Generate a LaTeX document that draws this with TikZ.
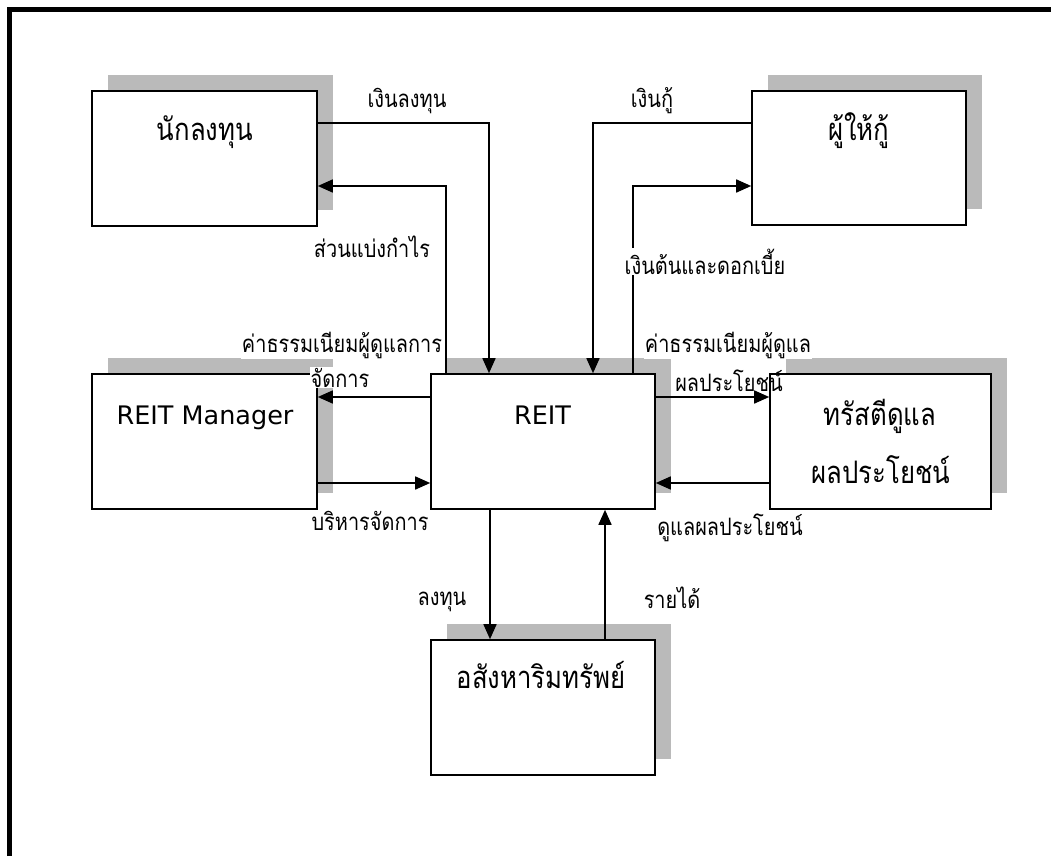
\documentclass[tikz,border=0pt]{standalone}
\usepackage{fontspec}
\setmainfont{DejaVu Sans}
\newfontfamily\thai[Script=Thai, FakeStretch=0.83]{Loma}
\usetikzlibrary{arrows.meta,calc,shadows}
\begin{document}
\begin{tikzpicture}[x=1pt,y=-1pt,
  box/.style={draw, line width=1.6pt, fill=white, inner sep=0pt,
    drop shadow={shadow xshift=16pt, shadow yshift=16pt, fill=black!27, opacity=1}},
  title/.style={font=\thai\fontsize{31}{33}\selectfont, anchor=base, inner sep=0pt},
  ltitle/.style={font=\fontsize{25.5}{28}\selectfont, anchor=base, inner sep=0pt},
  lbl/.style={font=\thai\fontsize{24}{26}\selectfont, anchor=base, fill=white, inner sep=1pt},
  flow/.style={line width=1.6pt, -{Triangle[length=15pt,width=13pt]}},
]
\useasboundingbox (0,0) rectangle (1051,856);

% page frame (top and left rules)
\draw[line width=5pt] (9.5,856) -- (9.5,9.5) -- (1051,9.5);

% parties
\node[box, minimum width=225pt, minimum height=135pt] (inv)    at (204.5,158.5) {};
\node[box, minimum width=214pt, minimum height=134pt] (lender) at (859,158) {};
\node[box, minimum width=225pt, minimum height=135pt] (mgr)    at (204.5,441.5) {};
\node[box, minimum width=224pt, minimum height=135pt] (reit)   at (543,441.5) {};
\node[box, minimum width=221pt, minimum height=135pt] (trust)  at (880.5,441.5) {};
\node[box, minimum width=224pt, minimum height=135pt] (prop)   at (543,707.5) {};

\node[title]  (invT)    at (205,140) {นักลงทุน};
\node[title]  (lenderT) at (859,140) {ผู้ให้กู้};
\node[ltitle] (mgrT)    at (205,424) {REIT Manager};
\node[ltitle] (reitT)   at (542.5,424) {REIT};
\node[title]  (trustT)  at (880,425) {ทรัสตีดูแล};
\node[title]  (trustT2) at (881,483) {ผลประโยชน์};
\node[title]  (propT)   at (541,688) {อสังหาริมทรัพย์};

% flows between the parties
\draw[flow] ([yshift=35.5pt]inv.east) -| ([xshift=-54pt]reit.north);
\draw[flow] ([xshift=-97pt]reit.north) |- ([yshift=-27.5pt]inv.east);
\draw[flow] ([yshift=35pt]lender.west) -| ([xshift=50pt]reit.north);
\draw[flow] ([xshift=90pt]reit.north) |- ([yshift=-28pt]lender.west);
\draw[flow] ([yshift=44.5pt]reit.west) -- ([yshift=44.5pt]mgr.east);
\draw[flow] ([yshift=-41.5pt]mgr.east) -- ([yshift=-41.5pt]reit.west);
\draw[flow] ([yshift=44.5pt]reit.east) -- ([yshift=44.5pt]trust.west);
\draw[flow] ([yshift=-41.5pt]trust.west) -- ([yshift=-41.5pt]reit.east);
\draw[flow] ([xshift=-53pt]reit.south) -- ([xshift=-53pt]prop.north);
\draw[flow] ([xshift=62pt]prop.north) -- ([xshift=62pt]reit.south);

% flow labels
\node[lbl] (l1)  at (407,107) {เงินลงทุน};
\node[lbl] (l2)  at (372,257) {ส่วนแบ่งกำไร};
\node[lbl] (l3)  at (652,107) {เงินกู้};
\node[lbl] (l4)  at (705,274) {เงินต้นและดอกเบี้ย};
\node[lbl] (l5)  at (342,352) {ค่าธรรมเนียมผู้ดูแลการ};
\node[lbl] (l5b) at (340,387) {จัดการ};
\node[lbl] (l6)  at (370,530) {บริหารจัดการ};
\node[lbl] (l7)  at (728,352) {ค่าธรรมเนียมผู้ดูแล};
\node[lbl, fill=none] (l7b) at (729,391) {ผลประโยชน์};
\node[lbl] (l8)  at (730,535) {ดูแลผลประโยชน์};
\node[lbl] (l9)  at (442,605) {ลงทุน};
\node[lbl] (l10) at (672,608) {รายได้};
\end{tikzpicture}
\end{document}
